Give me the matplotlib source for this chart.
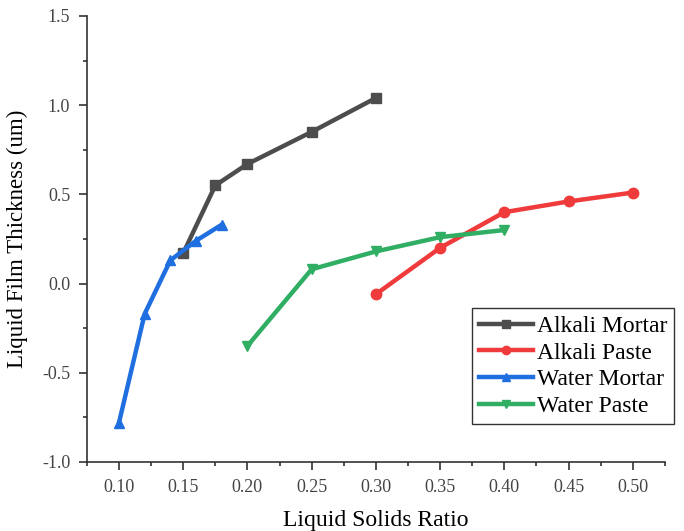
import matplotlib
matplotlib.use("Agg")
import matplotlib.pyplot as plt
from matplotlib.ticker import MultipleLocator, FormatStrFormatter

plt.rcParams['font.family'] = ['Liberation Serif', 'DejaVu Serif']

# data
alkali_mortar_x = [0.15, 0.175, 0.20, 0.25, 0.30]
alkali_mortar_y = [0.17, 0.55, 0.67, 0.85, 1.04]

alkali_paste_x = [0.30, 0.35, 0.40, 0.45, 0.50]
alkali_paste_y = [-0.06, 0.20, 0.40, 0.46, 0.51]

water_mortar_x = [0.10, 0.12, 0.14, 0.16, 0.18]
water_mortar_y = [-0.78, -0.17, 0.13, 0.24, 0.33]

water_paste_x = [0.20, 0.25, 0.30, 0.35, 0.40]
water_paste_y = [-0.35, 0.08, 0.18, 0.26, 0.30]

series = [
    ("Alkali Mortar", alkali_mortar_x, alkali_mortar_y, "#4d4d4d", "s"),
    ("Alkali Paste", alkali_paste_x, alkali_paste_y, "#ef3b3b", "o"),
    ("Water Mortar", water_mortar_x, water_mortar_y, "#1f6fe0", "^"),
    ("Water Paste", water_paste_x, water_paste_y, "#2fae64", "v"),
]

fig = plt.figure(figsize=(6.84, 5.31), dpi=100)
ax = fig.add_axes([0.127, 0.130, 0.845, 0.840])

for name, xs, ys, color, marker in series:
    ax.plot(xs, ys, color=color, lw=3.2, marker=marker, markersize=7.5,
            label=name)

ax.set_xlim(0.075, 0.525)
ax.set_ylim(-1.0, 1.5)

ax.xaxis.set_major_locator(MultipleLocator(0.05))
ax.xaxis.set_minor_locator(MultipleLocator(0.025))
ax.yaxis.set_major_locator(MultipleLocator(0.5))
ax.yaxis.set_minor_locator(MultipleLocator(0.25))
ax.xaxis.set_major_formatter(FormatStrFormatter('%.2f'))
ax.yaxis.set_major_formatter(FormatStrFormatter('%.1f'))

for side in ('top', 'right'):
    ax.spines[side].set_visible(False)
for side in ('left', 'bottom'):
    ax.spines[side].set_color('#333333')
    ax.spines[side].set_linewidth(1.2)

ax.tick_params(which='major', direction='out', length=6, width=1.2,
               colors='#333333', labelcolor='#444444', labelsize=13, pad=6)
ax.tick_params(which='minor', direction='out', length=3, width=1.2,
               colors='#333333')

ax.set_xlabel('Liquid Solids Ratio', fontsize=17, labelpad=10)
ax.set_ylabel('Liquid Film Thickness (um)', fontsize=16.5, labelpad=10)

leg = ax.legend(loc='lower right', bbox_to_anchor=(1.016, 0.085),
                fontsize=17, frameon=True, fancybox=False,
                edgecolor='black', handlelength=2.3, handletextpad=0.15,
                labelspacing=0.22, borderpad=0.3, borderaxespad=0.0,
                markerscale=0.8)
leg.get_frame().set_linewidth(1.0)

fig.savefig('out.png', dpi=100)
